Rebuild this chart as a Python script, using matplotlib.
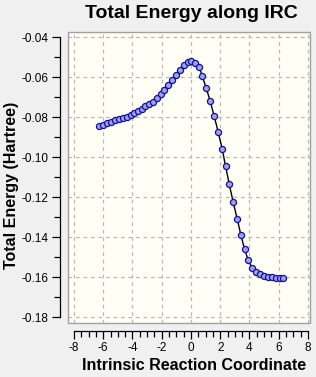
import matplotlib
matplotlib.use("Agg")
import matplotlib.pyplot as plt
from matplotlib.patches import Rectangle
from matplotlib.ticker import MultipleLocator

# IRC data (reaction coordinate, total energy in Hartree)
irc_x = [-6.27, -6.00, -5.72, -5.47, -5.20, -4.94, -4.67, -4.40, -4.12, -3.90,
         -3.62, -3.37, -3.12, -2.85, -2.58, -2.30, -2.07, -1.83, -1.55, -1.30,
         -1.03, -0.75, -0.46, -0.18, 0.00,
         0.29, 0.57, 0.77, 1.05, 1.32, 1.59, 1.87, 2.14, 2.37, 2.62,
         2.89, 3.17, 3.42, 3.67, 3.92, 4.19, 4.46, 4.72, 4.97, 5.24,
         5.52, 5.79, 6.07, 6.27]
irc_e = [-0.0845, -0.0840, -0.0830, -0.0824, -0.0817, -0.0812, -0.0804, -0.0799, -0.0790, -0.0782,
         -0.0770, -0.0759, -0.0745, -0.0735, -0.0724, -0.0707, -0.0685, -0.0665, -0.0640, -0.0615,
         -0.0590, -0.0565, -0.0540, -0.0524, -0.0519,
         -0.0528, -0.0552, -0.0595, -0.0657, -0.0722, -0.0797, -0.0877, -0.0962, -0.1047, -0.1137,
         -0.1227, -0.1312, -0.1392, -0.1462, -0.1517, -0.1557, -0.1577, -0.1587, -0.1595, -0.1599,
         -0.1602, -0.1605, -0.1607, -0.1607]

title = "Total Energy along IRC"
xlabel = "Intrinsic Reaction Coordinate"
ylabel = "Total Energy (Hartree)"

plt.rcParams['font.family'] = ['Liberation Sans', 'DejaVu Sans']

W, H = 316, 377
fig = plt.figure(figsize=(W / 100, H / 100), dpi=100)
fig.patch.set_facecolor('#f0f0f0')

L, R, T, B = 68, 310, 32, 323
ax = fig.add_axes([L / W, 1 - B / H, (R - L) / W, (B - T) / H])
ax.set_facecolor('#fffff6')
ax.set_xlim(-8.41, 8.14)
ax.set_ylim(-0.183, -0.0375)

# plot box
for s in ['top', 'right']:
    ax.spines[s].set_visible(False)
ax.add_patch(Rectangle((0, 0), 1, 1, transform=ax.transAxes, fill=False,
                       edgecolor='#a0a0a0', linewidth=1.0, clip_on=False, zorder=5))

# detached axes
ax.spines['left'].set_position(('outward', 6))
ax.spines['bottom'].set_position(('outward', 6))
ax.spines['left'].set_bounds(-0.18, -0.04)
ax.spines['bottom'].set_bounds(-8, 8)
for s in ['left', 'bottom']:
    ax.spines[s].set_color('black')
    ax.spines[s].set_linewidth(0.9)

ax.xaxis.set_minor_locator(MultipleLocator(0.5))
ax.yaxis.set_minor_locator(MultipleLocator(0.01))
ax.set_xticks(range(-8, 9, 2))
ax.set_xticklabels([str(v) for v in range(-8, 9, 2)])
yt = [-0.18, -0.16, -0.14, -0.12, -0.10, -0.08, -0.06, -0.04]
ax.set_yticks(yt)
ax.set_yticklabels(['%.2f' % v for v in yt])
ax.tick_params(which='major', length=6, width=0.9, labelsize=8.5, pad=2)
ax.tick_params(which='minor', length=4, width=0.9)

ax.grid(True, which='major', linestyle=(0, (3, 3)), color='#b8b8b8', linewidth=0.9)

ax.plot(irc_x, irc_e, color='black', linewidth=1.0, zorder=3)
ax.plot(irc_x, irc_e, linestyle='none', marker='o', markersize=4.4,
        markerfacecolor='#a0a0f0', markeredgecolor='#10109a', markeredgewidth=0.9, zorder=4)

fig.text(191 / W, 1 - 14 / H, title, ha='center', va='center', fontsize=14, fontweight='bold')
fig.text(194 / W, 1 - 365 / H, xlabel, ha='center', va='center', fontsize=11.5, fontweight='bold')
fig.text(12 / W, 1 - 185 / H, ylabel, ha='center', va='center', rotation=90, fontsize=11.5, fontweight='bold')

fig.savefig('out.png', dpi=100, facecolor=fig.get_facecolor())
